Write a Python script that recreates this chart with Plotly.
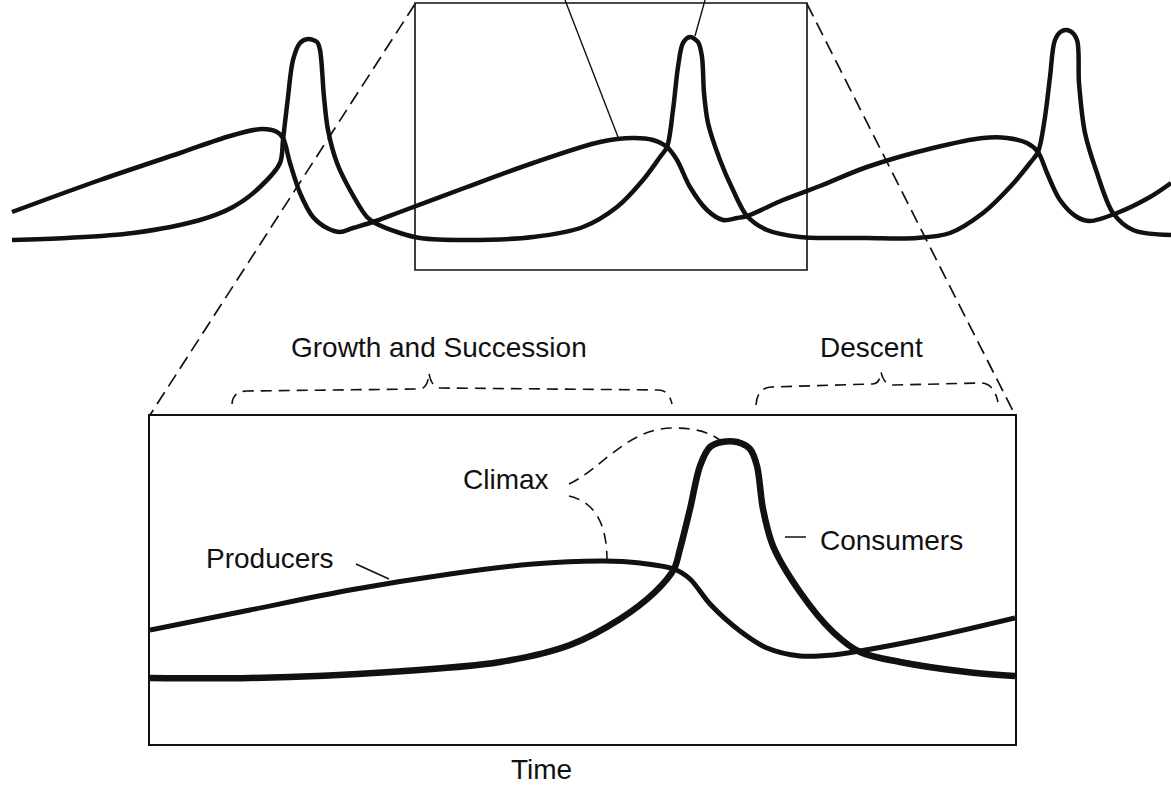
import plotly.graph_objects as go

W, H = 1171, 787

# ---------------- data: overview (top) panel ----------------
# time in drawing units, level = relative abundance (higher = larger)
top_prod_time = [12, 100, 180, 230, 262, 277, 283, 290, 300, 313, 327, 340, 353, 373, 400,
                 467, 533, 600, 633, 653, 667, 677, 690, 707, 723, 737, 747, 783, 820,
                 867, 933, 983, 1007, 1027, 1038, 1047, 1060, 1077, 1090, 1117, 1150, 1171]
top_prod_level = [63, 95, 122, 139, 146, 143, 137, 112, 82, 58, 47, 43, 47, 53, 63,
                  88, 112, 133, 137, 135, 128, 115, 88, 65, 55, 57, 59, 75, 89,
                  108, 127, 137, 137, 132, 123, 102, 75, 58, 54, 62, 78, 92]

top_cons_time = [12, 67, 133, 200, 233, 260, 280, 283, 288, 293, 300, 308, 317, 320, 324, 328,
                 337, 350, 367, 375, 400, 420,
                 467, 533, 583, 617, 643, 660, 667, 673, 678, 683, 690, 698, 702, 704, 708,
                 720, 733, 747, 767, 800,
                 867, 917, 950, 983, 1010, 1030, 1038, 1045, 1050, 1055, 1062, 1070, 1077,
                 1079, 1085, 1097, 1113, 1133, 1171]
top_cons_level = [35, 37, 42, 55, 68, 88, 112, 135, 178, 215, 232, 236, 233, 225, 178, 145,
                  112, 85, 58, 52, 42, 37,
                  35, 38, 48, 68, 95, 118, 128, 165, 208, 232, 238, 233, 218, 182, 152,
                  115, 85, 59, 45, 38,
                  37, 37, 42, 62, 88, 112, 123, 158, 198, 235, 244, 244, 235,
                  192, 142, 102, 62, 45, 40]

# ---------------- data: zoomed (bottom) panel ----------------
bot_prod_time = [0, 100, 200, 300, 383, 454, 490, 524, 540, 560, 590, 617, 650, 683, 710, 783, 865]
bot_prod_level = [114, 134, 154, 170, 180, 183, 181, 175, 165, 140, 113, 96, 88, 89, 93, 107, 126]

bot_cons_time = [0, 100, 240, 350, 420, 470, 505, 524, 530, 540, 550, 560, 572, 587, 600, 607, 613,
                 623, 650, 683, 710, 750, 817, 865]
bot_cons_level = [66, 66, 72, 82, 99, 125, 152, 175, 195, 235, 278, 297, 302, 302, 295, 278, 235,
                  198, 152, 112, 92, 82, 72, 68]

labels = {
    "growth": "Growth and Succession",
    "descent": "Descent",
    "climax": "Climax",
    "producers": "Producers",
    "consumers": "Consumers",
    "time": "Time",
}

# ---------------- helpers for layout decorations (pixel -> paper) ----------------
def px(x):
    return x / W


def py(y):
    return 1 - y / H


def path(cmds):
    out = []
    for c in cmds:
        op = c[0]
        pts = c[1:]
        out.append(op + " " + " ".join(f"{px(x):.5f},{py(y):.5f}" for x, y in pts))
    return " ".join(out)


FONT = "Liberation Sans, Arial, Helvetica, sans-serif"
BLACK = "#111111"

fig = go.Figure()

line_top = dict(color=BLACK, width=4.5, shape="spline", smoothing=0.9)
fig.add_trace(go.Scatter(x=top_prod_time, y=top_prod_level, mode="lines", line=line_top,
                         xaxis="x", yaxis="y", name="Producers"))
fig.add_trace(go.Scatter(x=top_cons_time, y=top_cons_level, mode="lines", line=line_top,
                         xaxis="x", yaxis="y", name="Consumers"))

fig.add_trace(go.Scatter(x=bot_prod_time, y=bot_prod_level, mode="lines",
                         line=dict(color=BLACK, width=5, shape="spline", smoothing=0.9),
                         xaxis="x2", yaxis="y2", name="Producers"))
fig.add_trace(go.Scatter(x=bot_cons_time, y=bot_cons_level, mode="lines",
                         line=dict(color=BLACK, width=6.5, shape="spline", smoothing=0.9),
                         xaxis="x2", yaxis="y2", name="Consumers"))

shapes = []
# zoom rectangle in the overview
shapes.append(dict(type="rect", xref="paper", yref="paper",
                   x0=px(415), x1=px(807), y0=py(270), y1=py(3),
                   line=dict(color=BLACK, width=1.6)))
# zoom connector dashed lines
DASH = "14px,7px"
for cmds in ([("M", (415, 4)), ("L", (150, 415))],
             [("M", (807, 4)), ("L", (1015, 415))]):
    shapes.append(dict(type="path", xref="paper", yref="paper", path=path(cmds),
                       line=dict(color=BLACK, width=1.7, dash=DASH)))
# leader lines from above (labels outside the picture)
for cmds in ([("M", (565, 0)), ("L", (618, 137))],
             [("M", (705, 0)), ("L", (695, 36))]):
    shapes.append(dict(type="path", xref="paper", yref="paper", path=path(cmds),
                       line=dict(color=BLACK, width=1.4)))
# brackets
growth_br = [("M", (232, 404)), ("Q", (233, 391), (247, 391)), ("L", (420, 389)),
             ("Q", (428, 388), (429, 373)), ("Q", (431, 387), (440, 388)), ("L", (658, 390)),
             ("Q", (669, 390), (672, 404))]
descent_br = [("M", (756, 405)), ("Q", (757, 388), (771, 387)), ("L", (872, 384)),
              ("Q", (880, 384), (881, 372)), ("Q", (884, 385), (893, 385)), ("L", (982, 383)),
              ("Q", (994, 384), (998, 402))]
climax_up = [("M", (569, 484)), ("C", (600, 470), (628, 428), (672, 428)),
             ("C", (700, 428), (712, 434), (721, 441))]
climax_lo = [("M", (569, 496)), ("C", (594, 502), (607, 522), (607, 561))]
for cmds in (growth_br, descent_br, climax_up, climax_lo):
    shapes.append(dict(type="path", xref="paper", yref="paper", path=path(cmds),
                       line=dict(color=BLACK, width=1.6, dash="11px,7px")))
# short label leaders
for cmds in ([("M", (356, 564)), ("L", (389, 579))],
             [("M", (785, 537)), ("L", (806, 537))]):
    shapes.append(dict(type="path", xref="paper", yref="paper", path=path(cmds),
                       line=dict(color=BLACK, width=1.5)))

annotations = []
for key, (x, y) in {"growth": (439, 347), "descent": (871, 347), "climax": (506, 479),
                    "producers": (270, 558), "consumers": (891, 540),
                    "time": (541, 769)}.items():
    annotations.append(dict(text=labels[key], x=px(x), y=py(y), xref="paper", yref="paper",
                            xanchor="center", yanchor="middle", showarrow=False,
                            font=dict(family=FONT, size=28, color=BLACK)))

hidden = dict(visible=False, fixedrange=True)
fig.update_layout(
    width=W, height=H,
    margin=dict(l=0, r=0, t=0, b=0),
    paper_bgcolor="white", plot_bgcolor="rgba(0,0,0,0)",
    showlegend=False,
    xaxis=dict(domain=[0, 1], range=[0, W], anchor="y", **hidden),
    yaxis=dict(domain=[1 - 275 / H, 1], range=[0, 275], anchor="x", **hidden),
    xaxis2=dict(domain=[150 / W, 1015 / W], range=[0, 865], anchor="y2",
                showline=True, mirror=True, linecolor=BLACK, linewidth=2,
                showgrid=False, zeroline=False, showticklabels=False, ticks=""),
    yaxis2=dict(domain=[1 - 744 / H, 1 - 416 / H], range=[0, 328], anchor="x2",
                showline=True, mirror=True, linecolor=BLACK, linewidth=2,
                showgrid=False, zeroline=False, showticklabels=False, ticks=""),
    shapes=shapes,
    annotations=annotations,
)

fig.write_html(
    "out.html",
    config={"displayModeBar": False, "staticPlot": True},
    post_script="document.body.style.margin='0';document.body.style.overflow='hidden';",
)
